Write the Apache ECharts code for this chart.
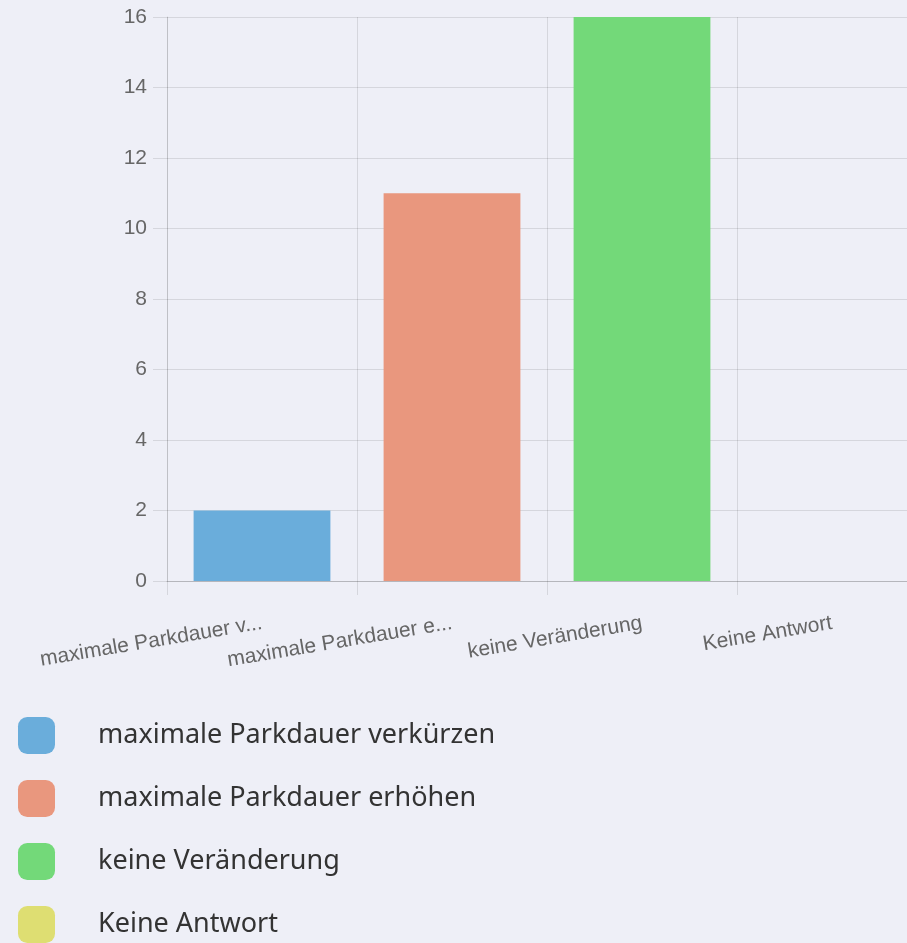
<!DOCTYPE html>
<html>
<head>
<meta charset="utf-8">
<script src="https://cdn.jsdelivr.net/npm/echarts@6/dist/echarts.min.js"></script>
<style>
    html, body { margin: 0; padding: 0; background: #EEEFF7; }
    #chart { width: 907px; height: 943px; }
</style>
</head>
<body>
<div id="chart"></div>
<script>
//////////////////////////////////////////////////////////////////
// [ Data ]

var categories = ['maximale Parkdauer verkürzen', 'maximale Parkdauer erhöhen', 'keine Veränderung', 'Keine Antwort'];
var tickLabels = ['maximale Parkdauer v...', 'maximale Parkdauer e...', 'keine Veränderung', 'Keine Antwort'];
var counts = [2, 11, 16, 0];
var colors = ['#6AADDB', '#E9977E', '#73D979', '#DEDE72'];

//////////////////////////////////////////////////////////////////
// [ Chart ]

var chart = echarts.init(document.getElementById('chart'));

// one series per answer, stacked so each bar stays centred in its column
var series = categories.map(function (name, i) {
    return {
        name: name,
        type: 'bar',
        stack: 'all',
        barWidth: '72%',
        itemStyle: { color: colors[i] },
        data: counts.map(function (v, j) { return j === i ? v : '-'; })
    };
});

var gridLine = { color: 'rgba(0,0,0,0.1)', width: 1 };

var options = {
    backgroundColor: '#EEEFF7',
    animation: false,
    // plot runs past the right edge of the canvas, like the original
    grid: {
        left: 167, width: 760, top: 17, bottom: 362,
        containLabel: false,
        outerBoundsMode: 'none'
    },
    xAxis: {
        type: 'category',
        data: tickLabels,
        axisLine: { lineStyle: { color: 'rgba(0,0,0,0.15)' } },
        axisTick: { show: true, length: 14, lineStyle: gridLine },
        splitLine: { show: true, lineStyle: gridLine },
        axisLabel: {
            interval: 0,
            rotate: 9.5,
            margin: 42,
            color: '#666',
            fontSize: 21,
            fontFamily: 'Liberation Sans, Arial, sans-serif'
        }
    },
    yAxis: {
        type: 'value',
        min: 0,
        max: 16,
        interval: 2,
        axisLine: { show: true, lineStyle: gridLine },
        axisTick: { show: true, length: 14, lineStyle: gridLine },
        splitLine: { lineStyle: gridLine },
        axisLabel: {
            margin: 20,
            color: '#666',
            fontSize: 21,
            fontFamily: 'Liberation Sans, Arial, sans-serif'
        }
    },
    legend: {
        orient: 'vertical',
        left: 18,
        top: 717,
        height: 240,
        padding: 0,
        icon: 'roundRect',
        itemWidth: 37,
        itemHeight: 37,
        itemGap: 26,
        selectedMode: false,
        textStyle: {
            color: '#333',
            fontSize: 27,
            fontFamily: 'Noto Sans, Open Sans, sans-serif',
            padding: [0, 0, 0, 38]
        },
        data: categories
    },
    series: series
};

chart.setOption(options);
</script>
</body>
</html>
